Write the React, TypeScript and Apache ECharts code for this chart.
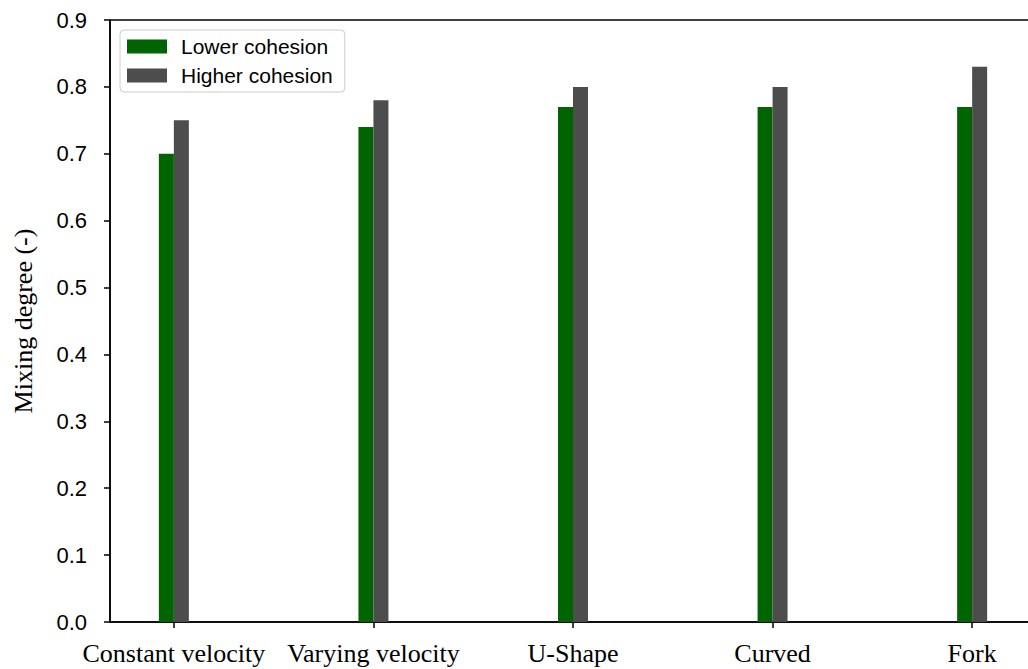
import React, { useEffect, useRef } from "react";
import * as echarts from "echarts";

const categories = ["Constant velocity", "Varying velocity", "U-Shape", "Curved", "Fork"];
const lowerCohesion = [0.70, 0.74, 0.77, 0.77, 0.77];
const higherCohesion = [0.75, 0.78, 0.80, 0.80, 0.83];
const yTicks = [0, 0.1, 0.2, 0.3, 0.4, 0.5, 0.6, 0.7, 0.8, 0.9];

export default function App() {
  const ref = useRef<HTMLDivElement>(null);
  useEffect(() => {
    document.body.style.margin = "0";
    const chart = echarts.init(ref.current!, null, { renderer: "svg" });
    const sans = "'Liberation Sans', Arial, sans-serif";
    const serif = "'Liberation Serif', 'Times New Roman', serif";
    chart.setOption({
      animation: false,
      backgroundColor: "#ffffff",
      grid: {
        left: 110,
        top: 20,
        right: 24,
        bottom: 47,
        show: true,
        borderColor: "#000",
        borderWidth: 1.5,
      },
      legend: {
        orient: "vertical",
        left: 120,
        top: 30,
        itemWidth: 40,
        itemHeight: 14,
        itemGap: 8,
        icon: "rect",
        borderColor: "#cccccc",
        borderWidth: 1,
        borderRadius: 4,
        padding: [6, 12, 6, 7],
        backgroundColor: "rgba(255,255,255,0.8)",
        textStyle: { fontFamily: sans, fontSize: 21, color: "#000", padding: [0, 0, 0, 9] },
        data: ["Lower cohesion", "Higher cohesion"],
      },
      xAxis: {
        type: "value",
        min: -0.32,
        max: 4.32,
        splitLine: { show: false },
        axisLine: { show: true, onZero: false, lineStyle: { color: "#000", width: 1.5 } },
        axisTick: {
          show: true,
          customValues: categories.map((_, i) => i),
          length: 6,
          lineStyle: { color: "#000", width: 1.5 },
        },
        axisLabel: {
          customValues: categories.map((_, i) => i),
          formatter: (v: number) => categories[Math.round(v)] ?? "",
          fontFamily: serif,
          fontSize: 26,
          color: "#000",
          margin: 18,
        },
      },
      yAxis: {
        type: "value",
        min: 0,
        max: 0.9,
        interval: 0.1,
        name: "Mixing degree (-)",
        nameLocation: "middle",
        nameGap: 74,
        nameTextStyle: { fontFamily: serif, fontSize: 26, color: "#000" },
        splitLine: { show: false },
        axisLine: { show: true, onZero: false, lineStyle: { color: "#000", width: 1.5 } },
        axisTick: { show: true, length: 6, lineStyle: { color: "#000", width: 1.5 } },
        axisLabel: {
          formatter: (v: number) => {
            const t = yTicks.find((x) => Math.abs(x - v) < 1e-6);
            return (t ?? v).toFixed(1);
          },
          fontFamily: sans,
          fontSize: 22,
          color: "#000",
          margin: 23,
        },
      },
      series: [
        {
          name: "Lower cohesion",
          type: "bar",
          barWidth: 15,
          barGap: "0%",
          itemStyle: { color: "#006400" },
          data: lowerCohesion.map((v, i) => [i, v]),
        },
        {
          name: "Higher cohesion",
          type: "bar",
          barWidth: 15,
          barGap: "0%",
          itemStyle: { color: "#4d4d4d" },
          data: higherCohesion.map((v, i) => [i, v]),
        },
      ],
    });
    return () => chart.dispose();
  }, []);
  return (
    <div
      ref={ref}
      style={{ position: "fixed", left: 0, top: 0, width: 1060, height: 669 }}
    />
  );
}
